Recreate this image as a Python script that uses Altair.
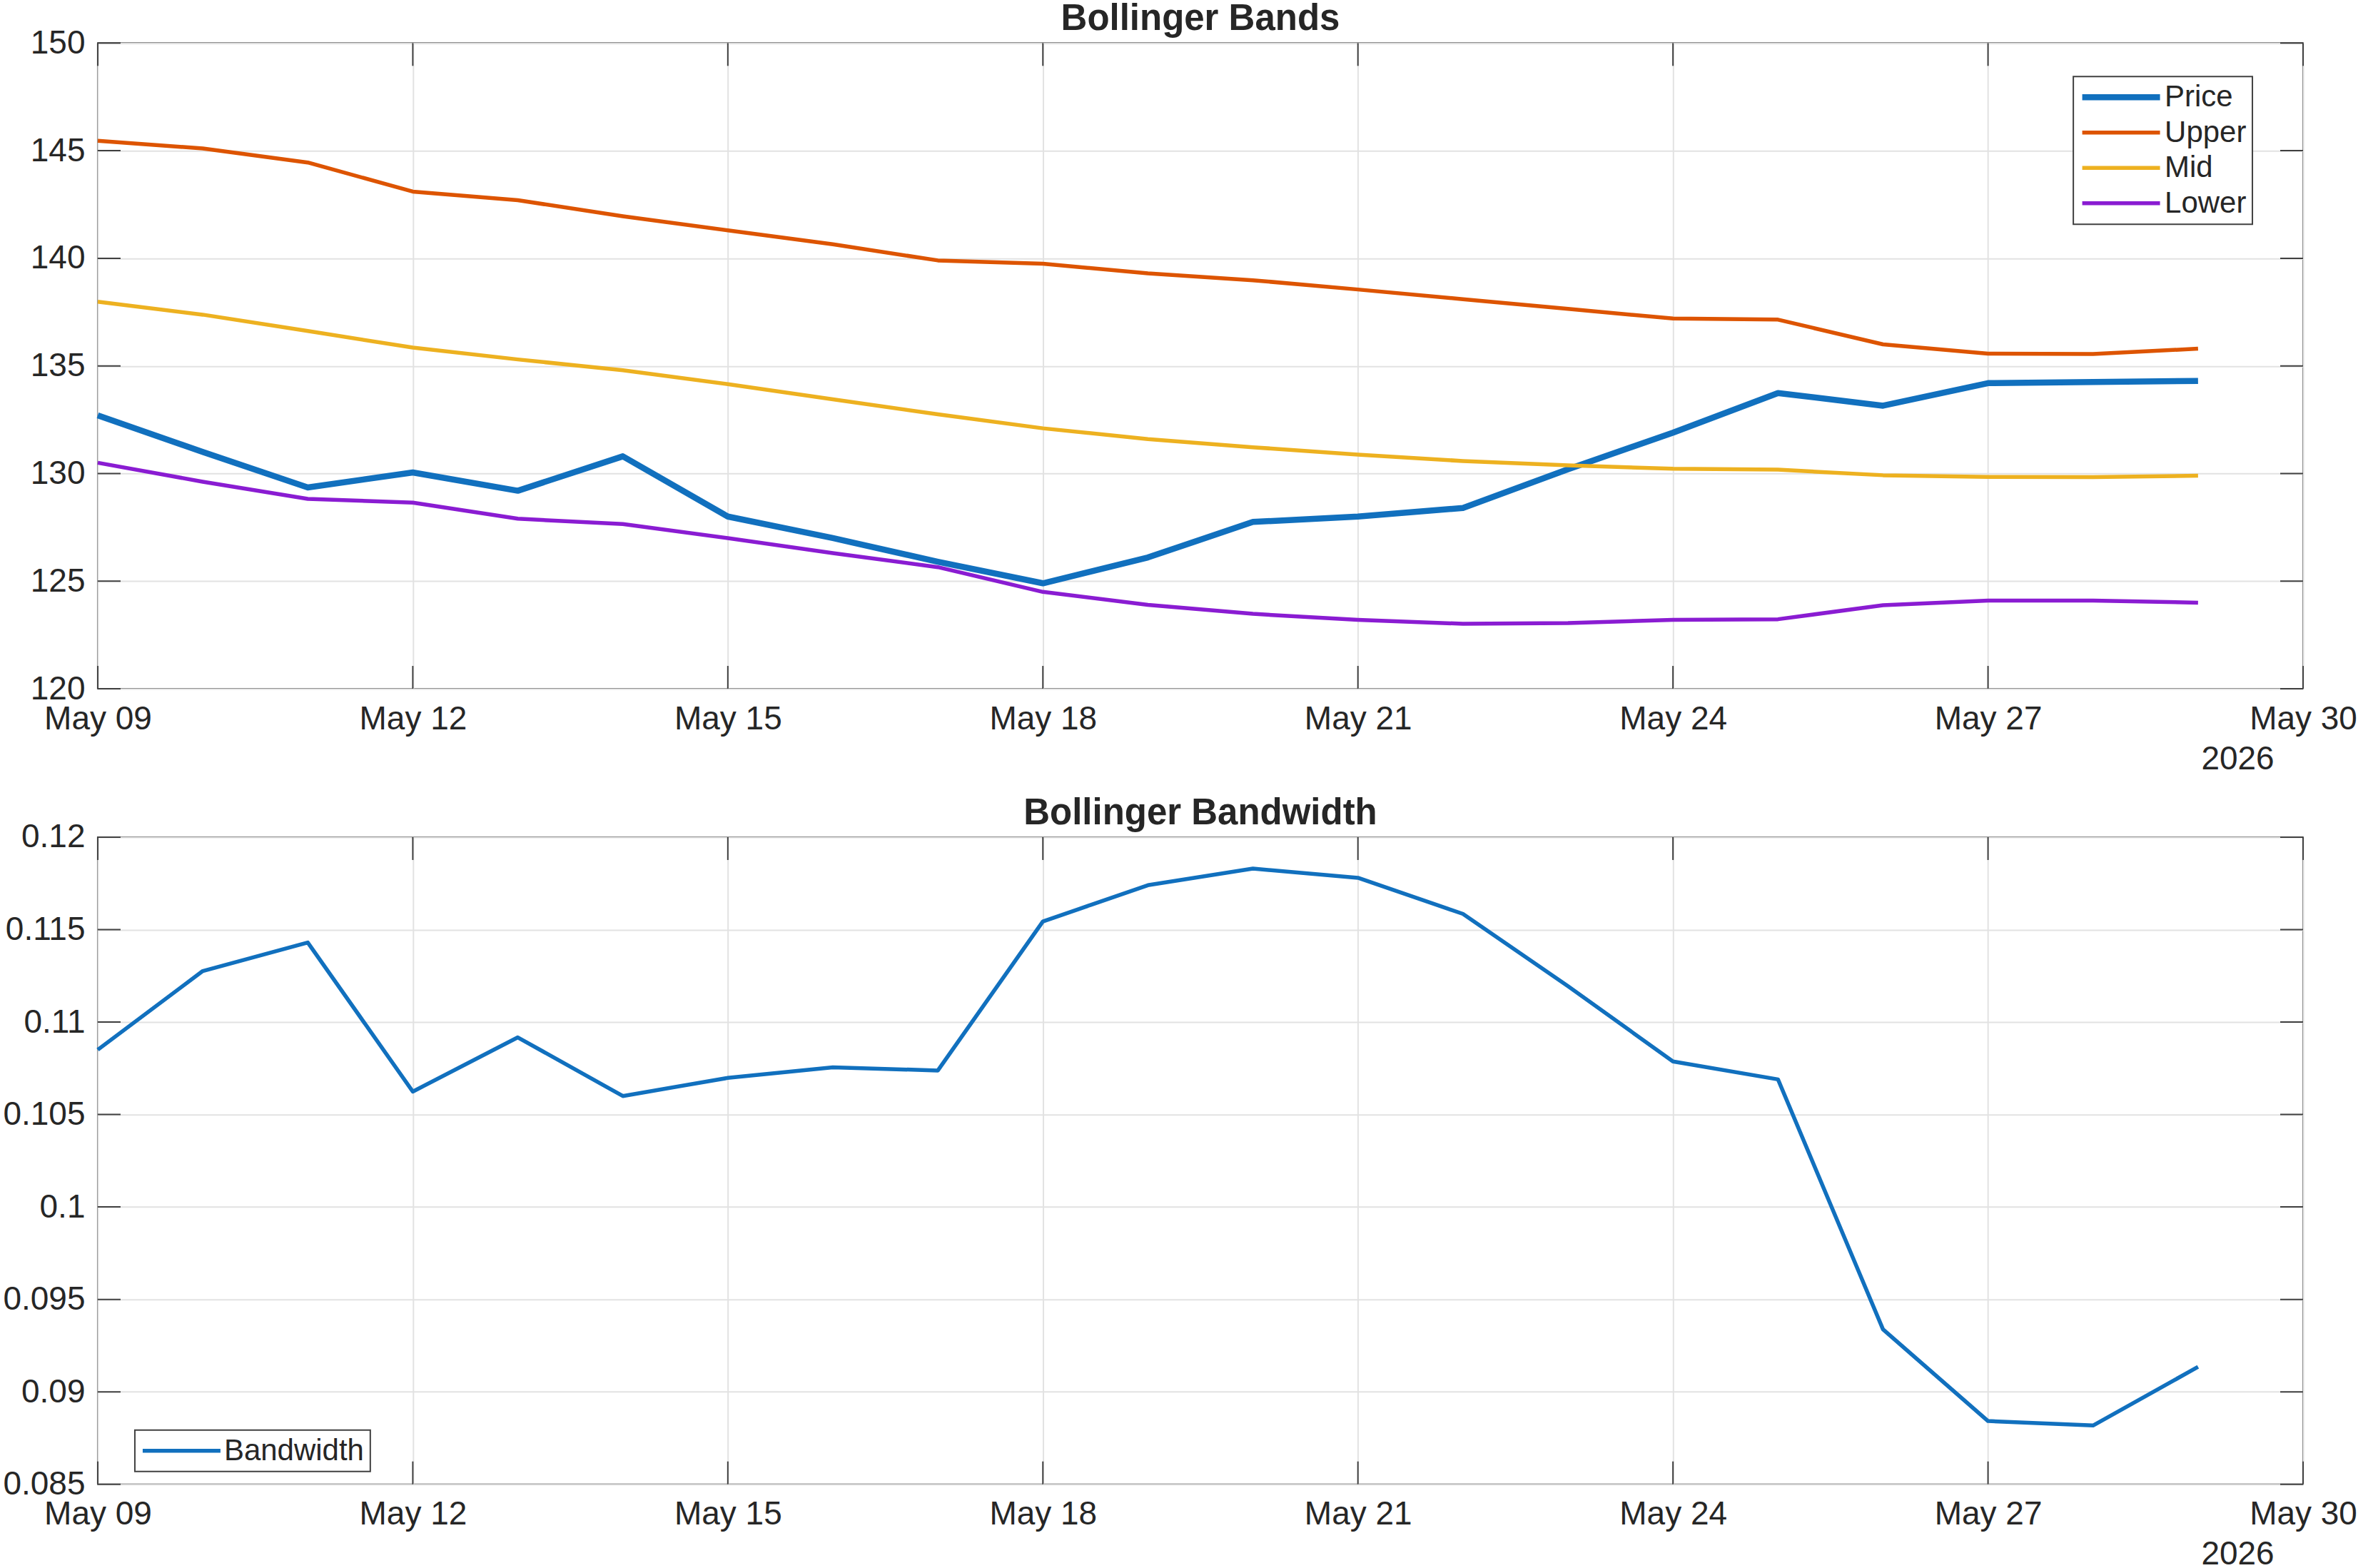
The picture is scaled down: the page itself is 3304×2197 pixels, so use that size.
import altair as alt
import pandas as pd

# ---------------- data ----------------
dates = [f"2026-05-{d:02d}T00:00:00" for d in range(9, 30)]  # May 09 .. May 29

price = [132.7, 131.0, 129.35, 130.05, 129.2, 130.8, 128.0, 127.0, 125.9, 124.9,
         126.1, 127.75, 128.0, 128.4, 130.2, 131.9, 133.74, 133.15, 134.2, 134.25, 134.3]
upper = [145.46, 145.1, 144.45, 143.1, 142.7, 141.95, 141.3, 140.65, 139.9, 139.75,
         139.3, 138.98, 138.55, 138.1, 137.65, 137.2, 137.15, 136.0, 135.57, 135.55, 135.8]
mid = [137.98, 137.38, 136.62, 135.85, 135.3, 134.8, 134.15, 133.45, 132.75, 132.1,
       131.6, 131.22, 130.88, 130.58, 130.38, 130.22, 130.18, 129.92, 129.84, 129.83, 129.9]
lower = [130.5, 129.62, 128.82, 128.65, 127.9, 127.65, 127.0, 126.3, 125.65, 124.5,
         123.9, 123.48, 123.2, 123.02, 123.05, 123.2, 123.23, 123.88, 124.1, 124.1, 124.0]
bandwidth = [0.1085, 0.11276, 0.1143, 0.10624, 0.10917, 0.106, 0.10698, 0.10755, 0.10738,
             0.11544, 0.1174, 0.1183, 0.1178, 0.11585, 0.11194, 0.10787, 0.1069, 0.09338,
             0.08842, 0.08818, 0.09135]

series_names = ["Price", "Upper", "Mid", "Lower"]
series_colors = ["#1170BE", "#DD5400", "#EDB120", "#8A1CD2"]
series_widths = [8.5, 5.5, 5.5, 5.5]

xtick_dates = [f"2026-05-{d:02d}T00:00:00" for d in (9, 12, 15, 18, 21, 24, 27, 30)]
ytick_top = [120, 125, 130, 135, 140, 145, 150]
ytick_bot = [0.085, 0.09, 0.095, 0.1, 0.105, 0.11, 0.115, 0.12]

# ---------------- tables ----------------
top_df = pd.DataFrame(
    [{"date": d, "value": v, "series": s}
     for s, vals in zip(series_names, [price, upper, mid, lower])
     for d, v in zip(dates, vals)]
)
bot_df = pd.DataFrame({"date": dates, "value": bandwidth, "series": ["Bandwidth"] * len(dates)})
xt_df = pd.DataFrame({"date": xtick_dates})
yt_top_df = pd.DataFrame({"tick": ytick_top})
yt_bot_df = pd.DataFrame({"tick": ytick_bot})

W = 3091
H1 = 905
H2 = 907
TICK = 32
FRAME = "#404040"
TXT = "#262626"
FONT = "Liberation Sans"

x_scale = alt.Scale(domain=[alt.DateTime(year=2026, month=5, date=9),
                            alt.DateTime(year=2026, month=5, date=30)])
x_axis = alt.Axis(
    values=[alt.DateTime(year=2026, month=5, date=d) for d in (9, 12, 15, 18, 21, 24, 27, 30)],
    format="%b %d", labelPadding=20, labelOverlap=False, labelFlush=False,
    title="2026", titleX=2999, titleY=112, titleAlign="center", titleBaseline="alphabetic",
    titleFontWeight="normal", titleFontSize=46, titleColor=TXT, titleFont=FONT, grid=True,
)


def panel(df, yscale, yaxis, yt_df, height, legend, colors, widths, names, title):
    x = alt.X("date:T", scale=x_scale, axis=x_axis)
    lines = alt.Chart(df).mark_line(strokeJoin="round", strokeCap="butt").encode(
        x=x,
        y=alt.Y("value:Q", scale=yscale, axis=yaxis),
        color=alt.Color("series:N", scale=alt.Scale(domain=names, range=colors), legend=legend),
        strokeWidth=alt.StrokeWidth("series:N",
                                    scale=alt.Scale(type="ordinal", domain=names, range=widths),
                                    legend=legend),
    )
    yl = alt.Chart(yt_df).mark_rule(color=FRAME, strokeWidth=2).encode(
        y=alt.Y("tick:Q", scale=yscale, axis=yaxis), x=alt.value(0), x2=alt.value(TICK))
    yr = alt.Chart(yt_df).mark_rule(color=FRAME, strokeWidth=2).encode(
        y=alt.Y("tick:Q", scale=yscale, axis=yaxis), x=alt.value(W - TICK), x2=alt.value(W))
    xb = alt.Chart(xt_df).mark_rule(color=FRAME, strokeWidth=2).encode(
        x=alt.X("date:T", scale=x_scale, axis=x_axis), y=alt.value(height), y2=alt.value(height - TICK))
    xtp = alt.Chart(xt_df).mark_rule(color=FRAME, strokeWidth=2).encode(
        x=alt.X("date:T", scale=x_scale, axis=x_axis), y=alt.value(0), y2=alt.value(TICK))
    return alt.layer(lines, yl, yr, xb, xtp).properties(
        width=W, height=height,
        title=alt.TitleParams(title, fontSize=51, fontWeight="bold", font=FONT, color=TXT,
                              frame="group", anchor="middle", baseline="alphabetic", offset=-56),
    )


top_legend = alt.Legend(title=None, orient="none", legendX=2769, legendY=47,
                        symbolType="stroke", symbolSize=109 * 109, labelOffset=2,
                        symbolOffset=0)
bot_legend = alt.Legend(title=None, orient="none", legendX=52, legendY=831,
                        symbolType="stroke", symbolSize=109 * 109, labelOffset=2,
                        symbolOffset=0)

top = panel(
    top_df,
    alt.Scale(domain=[120, 150], nice=False, zero=False),
    alt.Axis(values=ytick_top, format="d", title=None, labelPadding=18, grid=True),
    yt_top_df, H1, top_legend, series_colors, series_widths, series_names, "Bollinger Bands",
)
bot = panel(
    bot_df,
    alt.Scale(domain=[0.085, 0.12], nice=False, zero=False),
    alt.Axis(values=ytick_bot, format="~g", title=None, labelPadding=18, grid=True),
    yt_bot_df, H2, bot_legend, ["#1170BE"], [5.5], ["Bandwidth"], "Bollinger Bandwidth",
)

chart = alt.vconcat(top, bot, spacing=26).resolve_scale(
    color="independent", strokeWidth="independent"
).properties(
    padding={"left": 2, "top": 0, "right": 0, "bottom": 0},
    background="white",
).configure_view(
    stroke=FRAME, strokeWidth=2
).configure_axis(
    domain=False, ticks=False, tickSize=0,
    labelFont=FONT, labelFontSize=46, labelColor=TXT,
    gridColor="#e2e2e2", gridWidth=2,
).configure_legend(
    labelFont=FONT, labelFontSize=42, labelColor=TXT,
    strokeColor=FRAME, strokeWidth=2, fillColor="white", padding=8,
    rowPadding=7.5, clipHeight=42, labelLimit=400,
)

chart.save("out.html", embed_options={"renderer": "svg", "actions": False})
